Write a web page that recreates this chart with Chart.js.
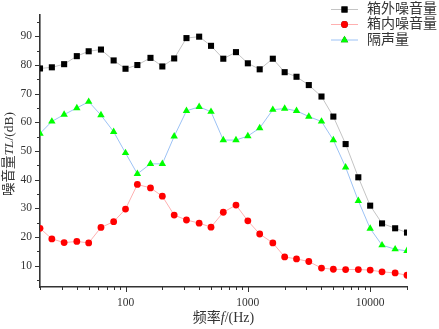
<!DOCTYPE html>
<html>
<head>
<meta charset="utf-8">
<script src="https://cdn.jsdelivr.net/npm/chart.js@4/dist/chart.umd.min.js"></script>
<style>
  html, body { margin: 0; padding: 0; background: #fff; }
  #wrap { width: 439px; height: 329px; }
</style>
</head>
<body>
<div id="wrap"><canvas id="c" width="439" height="329"></canvas></div>
<script>
// 1/3 octave band centre frequencies (Hz)
const freqs = [20, 25, 31.5, 40, 50, 63, 80, 100, 125, 160, 200, 250, 315, 400, 500,
  630, 800, 1000, 1250, 1600, 2000, 2500, 3150, 4000, 5000, 6300, 8000, 10000, 12500, 16000, 20000];

// 箱外噪音量
const outsideNoise = [78.8, 79.2, 80.3, 83.1, 84.8, 85.4, 81.6, 78.7, 80.0, 82.5, 79.5, 82.3, 89.4, 89.9, 86.7,
  82.2, 84.5, 80.6, 78.5, 82.2, 77.5, 75.9, 73.0, 69.0, 62.0, 52.4, 40.8, 30.9, 24.7, 23.0, 21.5];
// 箱内噪音量
const insideNoise = [23.0, 19.3, 18.0, 18.4, 17.9, 23.3, 25.3, 29.7, 38.3, 37.1, 34.2, 27.6, 25.9, 24.8, 23.4,
  28.6, 31.1, 25.6, 21.0, 17.9, 13.0, 12.3, 11.4, 9.1, 8.7, 8.6, 8.6, 8.4, 7.8, 7.4, 6.6];
// 隔声量
const insulation = [56.1, 60.3, 62.7, 65.0, 67.2, 62.5, 56.7, 49.3, 42.0, 45.5, 45.5, 55.1, 64.0, 65.4, 63.7,
  53.8, 53.8, 55.2, 58.0, 64.4, 64.8, 64.0, 62.0, 60.3, 53.8, 44.3, 32.6, 22.9, 17.1, 15.7, 15.1];

const seriesNames = ['箱外噪音量', '箱内噪音量', '隔声量'];
const xMajorTicks = [100, 1000, 10000];
const yMajorTicks = [10, 20, 30, 40, 50, 60, 70, 80, 90];

const serif = '"Liberation Serif", "Times New Roman", serif';
const cjk = '"Liberation Serif", "Noto Sans CJK SC", serif';
const textColor = '#333';

const toPoints = (vals) => vals.map((v, i) => ({ x: freqs[i], y: v }));

// minor tick positions for the log axis
const xMinor = [];
for (let d = 10; d <= 10000; d *= 10) {
  for (let k = 2; k <= 9; k++) {
    const v = d * k;
    if (v >= 20 && v <= 20000) xMinor.push(v);
  }
}
const yMinor = [5, 15, 25, 35, 45, 55, 65, 75, 85, 95];

// draw a string made of [text, font] pieces, centred on (0,0)
function drawPieces(ctx, pieces) {
  let total = 0;
  const widths = pieces.map(p => { ctx.font = p[1]; const w = ctx.measureText(p[0]).width; total += w; return w; });
  let x = -total / 2;
  pieces.forEach((p, i) => {
    ctx.font = p[1];
    ctx.fillText(p[0], x, 0);
    x += widths[i];
  });
}

const decorations = {
  id: 'decorations',
  afterDraw(chart) {
    const ctx = chart.ctx;
    const xs = chart.scales.x, ys = chart.scales.y;
    const area = chart.chartArea;
    ctx.save();
    ctx.strokeStyle = '#333';
    ctx.lineWidth = 1;
    ctx.beginPath();
    // x ticks (outward, down)
    xMajorTicks.forEach(v => {
      const px = Math.round(xs.getPixelForValue(v)) + 0.5;
      ctx.moveTo(px, area.bottom); ctx.lineTo(px, area.bottom + 5);
    });
    xMinor.forEach(v => {
      if (xMajorTicks.includes(v)) return;
      const px = Math.round(xs.getPixelForValue(v)) + 0.5;
      ctx.moveTo(px, area.bottom); ctx.lineTo(px, area.bottom + 3);
    });
    // y ticks (outward, left)
    yMajorTicks.forEach(v => {
      const py = Math.round(ys.getPixelForValue(v)) + 0.5;
      ctx.moveTo(area.left, py); ctx.lineTo(area.left - 5, py);
    });
    yMinor.forEach(v => {
      const py = Math.round(ys.getPixelForValue(v)) + 0.5;
      ctx.moveTo(area.left, py); ctx.lineTo(area.left - 3, py);
    });
    ctx.stroke();

    // axis titles
    ctx.fillStyle = textColor;
    ctx.textBaseline = 'middle';
    ctx.textAlign = 'left';
    ctx.save();
    ctx.translate((area.left + area.right) / 2, 318);
    drawPieces(ctx, [['频率', '14px ' + cjk], ['f', 'italic 14px ' + serif], ['/(Hz)', '14px ' + serif]]);
    ctx.restore();
    ctx.save();
    ctx.translate(9, 154);
    ctx.rotate(-Math.PI / 2);
    drawPieces(ctx, [['噪音量', '13.5px ' + cjk], ['TL', 'italic 13.5px ' + serif], ['/(dB)', '13.5px ' + serif]]);
    ctx.restore();

    // legend: line + marker + text
    const rowY = [9.5, 24.5, 40];
    chart.data.datasets.forEach((ds, i) => {
      const y = rowY[i];
      ctx.strokeStyle = ds.borderColor;
      ctx.lineWidth = 1;
      ctx.beginPath();
      ctx.moveTo(331, y); ctx.lineTo(358, y);
      ctx.stroke();
      Chart.helpers.drawPoint(ctx, {
        pointStyle: ds.pointStyle, radius: ds.pointRadius, borderWidth: 0, rotation: 0
      }, 344.5, y);
      ctx.fillStyle = ds.pointBackgroundColor;
      ctx.fill();
      ctx.fillStyle = textColor;
      ctx.font = '14px ' + cjk;
      ctx.textAlign = 'left';
      ctx.fillText(ds.label, 367, y);
    });
    ctx.restore();
  }
};

new Chart(document.getElementById('c'), {
  type: 'line',
  data: {
    datasets: [
      {
        label: seriesNames[0],
        data: toPoints(outsideNoise),
        borderColor: '#c4c4c4',
        borderWidth: 1,
        pointStyle: 'rect',
        pointRadius: 4.3,
        pointBackgroundColor: '#000',
        pointBorderWidth: 0,
      },
      {
        label: seriesNames[1],
        data: toPoints(insideNoise),
        borderColor: '#ffb0b0',
        borderWidth: 1,
        pointStyle: 'circle',
        pointRadius: 3.4,
        pointBackgroundColor: '#ff0000',
        pointBorderWidth: 0,
      },
      {
        label: seriesNames[2],
        data: toPoints(insulation),
        borderColor: '#9cc2f5',
        borderWidth: 1,
        pointStyle: 'triangle',
        pointRadius: 4.3,
        pointBackgroundColor: '#00ff00',
        pointBorderWidth: 0,
      },
    ],
  },
  options: {
    responsive: false,
    animation: false,
    devicePixelRatio: 1,
    layout: { padding: { top: 13, right: 32, left: 0, bottom: 0 } },
    plugins: {
      legend: { display: false },
      tooltip: { enabled: false },
    },
    scales: {
      x: {
        type: 'logarithmic',
        min: 20,
        max: 20000,
        afterBuildTicks: (scale) => { scale.ticks = xMajorTicks.map(v => ({ value: v })); },
        afterFit: (scale) => { scale.height = 42; },
        grid: { display: true, drawOnChartArea: false, drawTicks: false },
        border: { display: true, color: '#333', width: 1.6 },
        ticks: {
          padding: 9,
          color: textColor,
          font: { family: serif, size: 11.5 },
          maxRotation: 0,
          autoSkip: false,
          callback: (v) => String(v),
        },
      },
      y: {
        type: 'linear',
        min: 2.5,
        max: 97.5,
        afterBuildTicks: (scale) => { scale.ticks = yMajorTicks.map(v => ({ value: v })); },
        afterFit: (scale) => { scale.width = 40; },
        grid: { display: true, drawOnChartArea: false, drawTicks: false },
        border: { display: true, color: '#333', width: 1.6 },
        ticks: {
          padding: 8,
          color: textColor,
          font: { family: serif, size: 11.5 },
        },
      },
    },
  },
  plugins: [decorations],
});
</script>
</body>
</html>
